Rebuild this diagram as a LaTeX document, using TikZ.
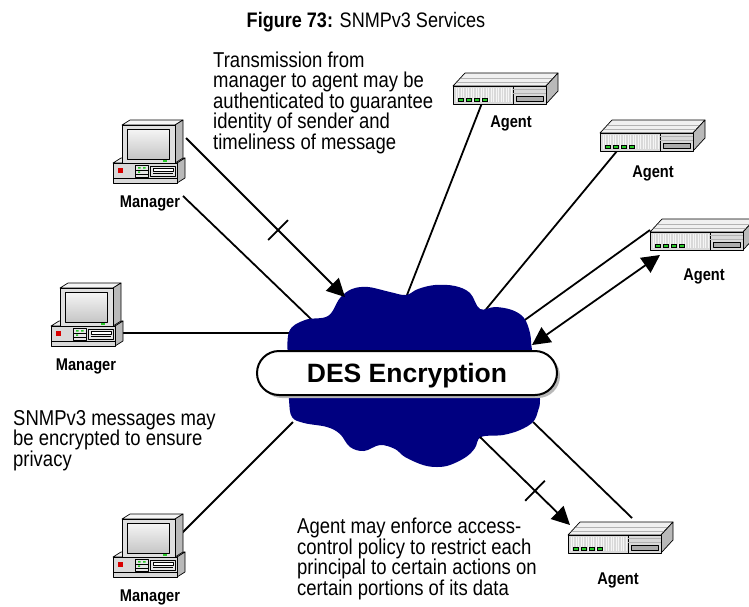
\documentclass[tikz,border=0pt]{standalone}
\usepackage{fontspec}
\setmainfont{Liberation Sans}
\newfontfamily\arialn[FakeStretch=0.86]{Liberation Sans}
\usetikzlibrary{arrows.meta,calc,shadows}
\definecolor{cloudblue}{RGB}{0,0,128}
\definecolor{ledgreen}{RGB}{40,200,40}

\tikzset{
  part/.style={draw=black, line width=0.7pt, line join=round},
  wire/.style={line width=1.8pt},
  wirearrow/.style={wire, -{Triangle[length=18pt,width=18pt]}},
  wiredouble/.style={wire, {Triangle[length=18pt,width=18pt]}-{Triangle[length=18pt,width=18pt]}},
  % multi-line notes are placed by the baseline of their last line
  notetext/.style={font=\arialn\fontsize{21.5}{20.5}\selectfont, align=left, inner sep=0pt, anchor=base west},
  devname/.style={font=\arialn\bfseries\fontsize{17}{17}\selectfont, inner sep=0pt, anchor=base},
  pillbox/.style={draw=black, line width=2pt, fill=white, rounded corners=22pt,
    minimum width=300pt, minimum height=44pt, text height=19pt, text depth=0pt,
    font=\bfseries\fontsize{26.5}{26.5}\selectfont,
    drop shadow={shadow xshift=3pt, shadow yshift=-3pt, fill=gray!55, opacity=1}},
  % desktop PC: origin at the top-left of the icon
  pcicon/.pic={
    % system unit
    \filldraw[part, fill=gray!15] (0,45) -- (8,40) -- (72,40) -- (64,45) -- cycle;
    \filldraw[part, fill=gray!55] (64,45) -- (72,40) -- (72,60) -- (64,65) -- cycle;
    \filldraw[part, fill=gray!30] (0,45) rectangle (64,65);
    \draw[part] (0,60) -- (64,60);
    \fill[red!85!black] (5,50) rectangle (10,55);
    \filldraw[part, fill=gray!20] (22,47) rectangle (35,59);
    \draw[part] (22,52) -- (35,52) (22,56) -- (35,56);
    \fill[ledgreen] (25,49) rectangle (27.5,50.5) (30,49) rectangle (32.5,50.5) (25,53.3) rectangle (27,54.8);
    \filldraw[part, fill=gray!20] (37,48) rectangle (62,58);
    \filldraw[part, fill=white] (40,50) rectangle (60,53);
    \draw[part] (40,55.5) -- (60,55.5);
    % monitor
    \filldraw[part, fill=gray!8] (9,7) -- (17,2) -- (70,2) -- (62,7) -- cycle;
    \filldraw[part, fill=gray!55] (62,7) -- (70,2) -- (70,40) -- (62,45) -- cycle;
    \filldraw[part, fill=gray!25] (9,7) rectangle (62,45);
    \shade[top color=gray!8, bottom color=gray!45] (14,11) rectangle (56,41);
    \draw[part] (14,11) rectangle (56,41);
    \fill[ledgreen] (50,42) rectangle (54,44);
  },
  % rack server: origin at the top-left of the front panel
  serverbox/.pic={
    \filldraw[part, fill=gray!12] (0,0) -- (12,-13) -- (105,-13) -- (93,0) -- cycle;
    \draw[gray!60, line width=0.5pt] (4,-4) -- (97,-4) (8,-8) -- (101,-8);
    \filldraw[part, fill=gray!55] (93,0) -- (105,-13) -- (105,5) -- (93,18) -- cycle;
    \filldraw[part, fill=gray!30] (0,0) rectangle (93,18);
    \foreach \i in {0,...,22} \fill[gray!8] (2.5+\i*2.5,2) rectangle (3.6+\i*2.5,16);
    \draw[part] (60,0) -- (60,18);
    \draw[gray!60, line width=0.5pt] (60,3.5) -- (93,3.5) (60,7) -- (93,7);
    \filldraw[part, fill=gray!65] (63,10) rectangle (90,15);
    \foreach \i in {0,...,3} \filldraw[draw=black, line width=0.4pt, fill=ledgreen] (5+\i*8,12) rectangle (10+\i*8,15);
  },
}

\begin{document}
\begin{tikzpicture}[x=1pt,y=-1pt]
\useasboundingbox (0,0) rectangle (749,606);

% title
\node[anchor=base, inner sep=0pt, font=\arialn\fontsize{21}{21}\selectfont] (title) at (366,27)
  {\textbf{Figure 73:} SNMPv3 Services};

% device ports
\coordinate (m1a) at (186,138);
\coordinate (m1b) at (183,196);
\coordinate (m2a) at (121,333);
\coordinate (m3a) at (175,540);
\coordinate (a1p) at (482,103);
\coordinate (a2p) at (617,151);
\coordinate (a3p) at (650,230);
\coordinate (a3q) at (660,255);
\coordinate (a4p) at (632,518);
\coordinate (a4q) at (570,525);
% points on the cloud edge
\coordinate (c1) at (345,297);
\coordinate (c2) at (312,320);
\coordinate (c3) at (293,333);
\coordinate (c4) at (293,422);
\coordinate (c5) at (407,295);
\coordinate (c6) at (483,313);
\coordinate (c7) at (522,322);
\coordinate (c8) at (532,345);
\coordinate (c9) at (533,422);
\coordinate (c10) at (480,437);

% plain links
\draw[wire] (m1b) -- (c2);
\draw[wire] (m2a) -- (c3);
\draw[wire] (m3a) -- (c4);
\draw[wire] (a1p) -- (c5);
\draw[wire] (a2p) -- (c6);
\draw[wire] (a3p) -- (c7);
\draw[wire] (c9) -- (a4p);

% network cloud
\fill[cloudblue] plot[smooth cycle, tension=0.6] coordinates {
  (289,332) (305,320) (328,316) (340,298) (352,289) (368,287) (390,292) (406,295)
  (418,289) (435,285) (455,286) (470,293) (480,309) (495,307) (512,310) (524,318)
  (530,333) (532,350) (538,375) (540,400) (538,411) (533,422) (520,430) (503,435)
  (481,437) (475,448) (466,457) (450,465) (437,467) (423,465) (405,457) (395,449)
  (380,445) (364,451) (350,447) (340,434) (327,427) (304,423) (292,417) (289,400)
  (288,365)};

% directed links with ticks
\draw[wirearrow] (m1a) -- (c1);
\path (m1a) -- (c1) coordinate[pos=0.579] (tk1);
\draw[wire] ($(tk1)!14pt!90:(c1)$) -- ($(tk1)!14pt!-90:(c1)$);
\draw[wirearrow] (c10) -- (a4q);
\path (c10) -- (a4q) coordinate[pos=0.611] (tk2);
\draw[wire] ($(tk2)!14pt!90:(a4q)$) -- ($(tk2)!14pt!-90:(a4q)$);
\draw[wiredouble] (a3q) -- (c8);

% encryption banner
\node[pillbox] (des) at (407,373) {DES Encryption};

% managers
\pic at (113,118) {pcicon};
\pic at (51,281) {pcicon};
\pic at (113,512) {pcicon};
\node[devname] (m1) at (150,207) {Manager};
\node[devname] (m2) at (86,370) {Manager};
\node[devname] (m3) at (150,601) {Manager};

% agents
\pic at (453,86) {serverbox};
\pic at (600,133) {serverbox};
\pic at (650,232) {serverbox};
\pic at (568,535) {serverbox};
\node[devname] (ag1) at (511,127) {Agent};
\node[devname] (ag2) at (653,177) {Agent};
\node[devname] (ag3) at (704,280) {Agent};
\node[devname] (ag4) at (618,584) {Agent};

% notes
\node[notetext] (auth) at (213,149) {Transmission from\\manager to agent may be\\authenticated to guarantee\\identity of sender and\\timeliness of message};
\node[notetext] (priv) at (13,466) {SNMPv3 messages may\\be encrypted to ensure\\privacy};
\node[notetext] (acl) at (297,595) {Agent may enforce access-\\control policy to restrict each\\principal to certain actions on\\certain portions of its data};
\end{tikzpicture}
\end{document}
